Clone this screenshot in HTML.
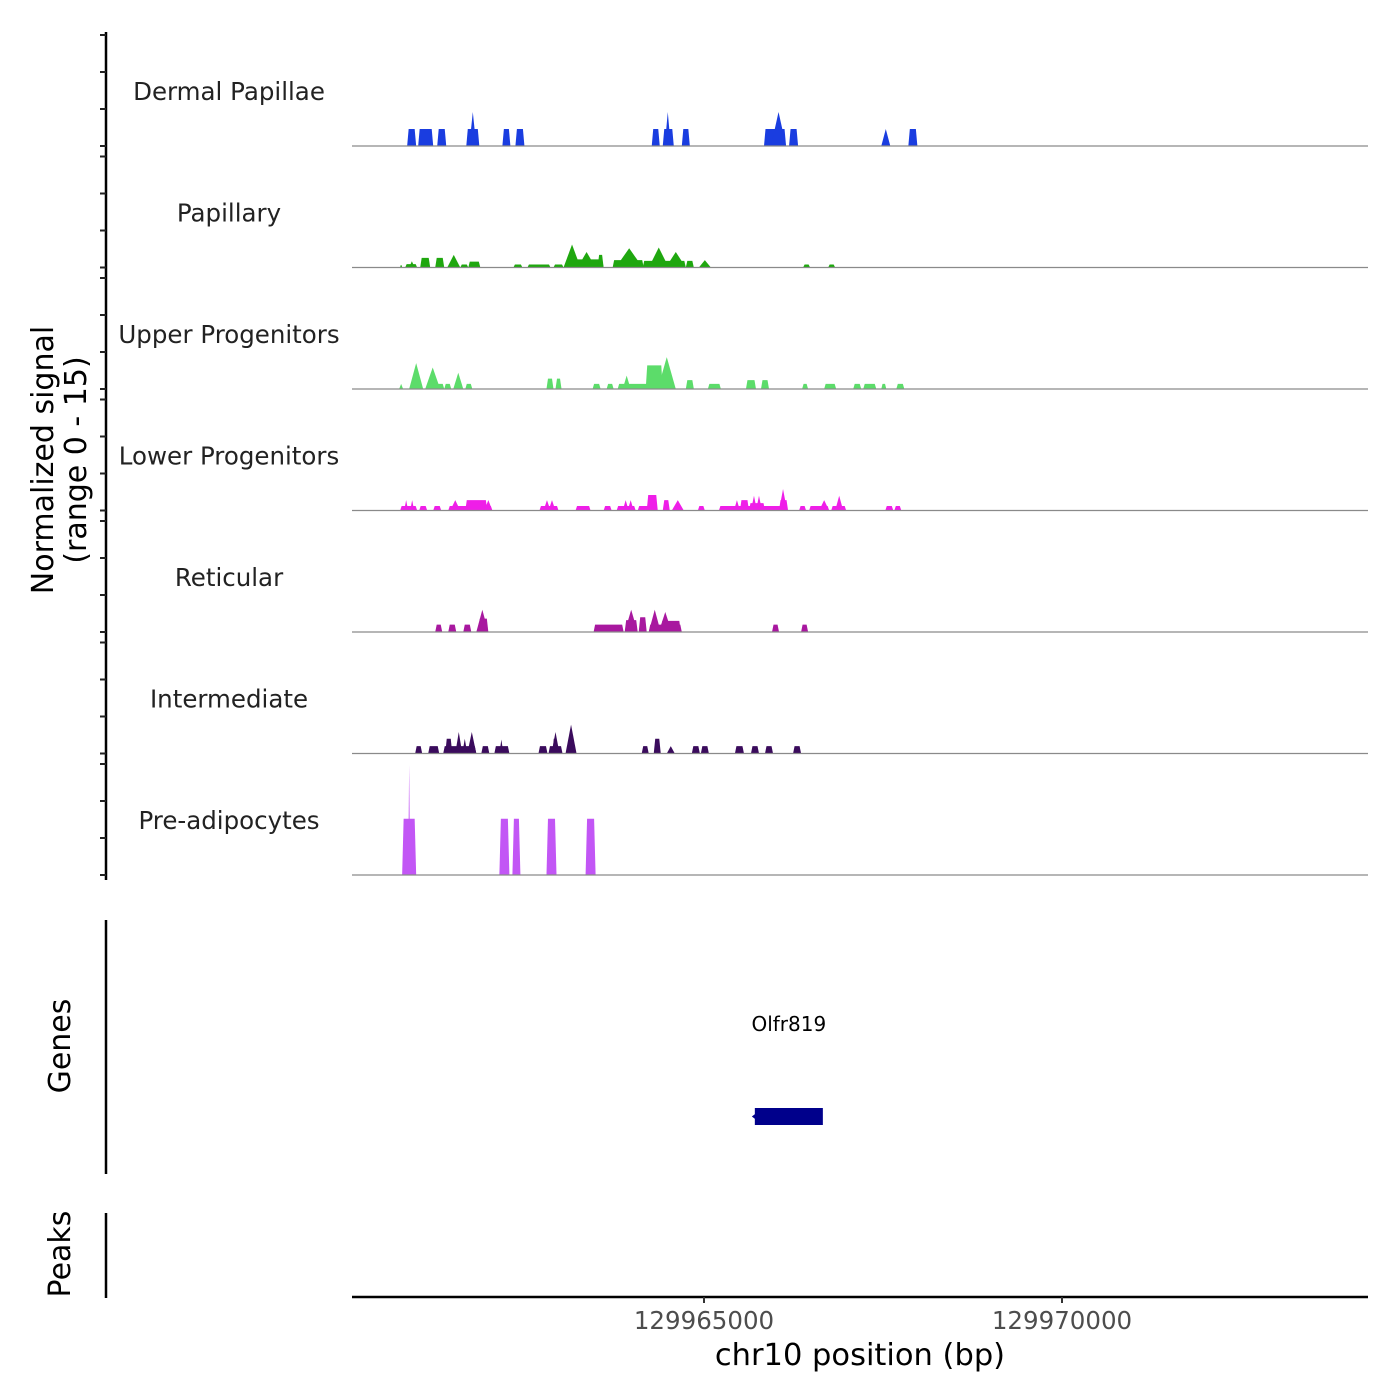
<!DOCTYPE html>
<html><head><meta charset="utf-8"><style>
body{margin:0;background:#fff}
svg{display:block;font-family:"DejaVu Sans","Liberation Sans",sans-serif}
</style></head><body>
<svg id="chart" width="1400" height="1400" viewBox="0 0 1400 1400"></svg>
<script>
const BASE = 129960000;
const trackNames = ["Dermal Papillae","Papillary","Upper Progenitors","Lower Progenitors","Reticular","Intermediate","Pre-adipocytes"];
const trackColors = ["#1a3de0","#1fa70f","#5cdc6a","#ef1ee8","#a8189f","#3a0b5c","#c256f5"];
// peaks: [startOffset, endOffset, value, kind] kind b=block, t=triangle
const dermalPeaks = [[854,980,2.3,"b"],[1008,1218,2.3,"b"],[1274,1400,2.3,"b"],[1680,1862,2.3,"b"],[1722,1820,4.6,"t"],[2184,2296,2.3,"b"],[2366,2492,2.3,"b"],[4270,4382,2.3,"b"],[4424,4578,2.3,"b"],[4452,4536,4.6,"t"],[4690,4802,2.3,"b"],[5838,6146,2.3,"b"],[5936,6146,4.6,"t"],[6188,6314,2.3,"b"],[7476,7602,2.3,"t"],[7854,7980,2.3,"b"]];
const papillaryPeaks = [[756,784,0.3,"b"],[826,994,0.45,"b"],[880,960,0.85,"t"],[1036,1176,1.3,"b"],[1246,1372,1.3,"b"],[1414,1596,1.7,"t"],[1596,1708,0.4,"b"],[1708,1876,0.8,"b"],[2338,2464,0.4,"b"],[2534,2856,0.4,"b"],[2898,3038,0.4,"b"],[3066,3598,1.1,"b"],[3038,3276,3.1,"t"],[3234,3486,2.1,"t"],[3514,3598,1.7,"b"],[3724,4158,1.0,"b"],[3766,4144,2.6,"t"],[4144,4746,0.9,"b"],[4228,4508,2.7,"t"],[4466,4746,2.1,"t"],[4746,4858,0.9,"b"],[4928,5096,1.0,"t"],[6384,6482,0.4,"b"],[6734,6832,0.4,"b"]];
const upperPeaks = [[742,798,0.7,"t"],[882,1078,3.5,"t"],[1106,1316,2.9,"t"],[1246,1372,0.7,"b"],[1372,1470,0.7,"b"],[1498,1638,2.2,"t"],[1666,1764,0.7,"b"],[2800,2898,1.4,"b"],[2926,3010,1.4,"b"],[3444,3556,0.7,"b"],[3640,3738,0.7,"b"],[3794,4214,0.7,"b"],[3864,3976,1.8,"t"],[4186,4424,3.2,"b"],[4354,4606,4.3,"t"],[4746,4858,1.2,"b"],[5054,5236,0.7,"b"],[5586,5726,1.2,"b"],[5796,5908,1.2,"b"],[6370,6454,0.7,"b"],[6678,6846,0.7,"b"],[7084,7196,0.7,"b"],[7224,7406,0.7,"b"],[7476,7546,0.7,"b"],[7686,7798,0.7,"b"]];
const lowerPeaks = [[756,994,0.6,"b"],[812,868,1.4,"t"],[896,952,1.4,"t"],[1022,1134,0.6,"b"],[1218,1330,0.6,"b"],[1428,2044,0.6,"b"],[1666,1974,1.4,"b"],[1456,1596,1.4,"t"],[1932,2044,1.4,"t"],[2702,2968,0.6,"b"],[2758,2856,1.4,"t"],[2828,2926,1.4,"t"],[3206,3416,0.6,"b"],[3598,3710,0.6,"b"],[3780,4046,0.6,"b"],[3864,3948,1.4,"t"],[3934,4018,1.4,"t"],[4074,4354,0.6,"b"],[4200,4354,2.1,"b"],[4424,4522,1.4,"b"],[4550,4718,1.4,"t"],[4914,5012,0.6,"b"],[5208,5768,0.6,"b"],[5418,5502,1.4,"t"],[5502,5628,1.4,"b"],[5656,5740,2.0,"t"],[5726,5810,2.0,"t"],[5628,5852,1.0,"b"],[5796,6160,0.6,"b"],[6048,6160,2.9,"t"],[6048,6174,1.4,"b"],[6328,6426,0.6,"b"],[6468,6748,0.6,"b"],[6608,6748,1.4,"t"],[6776,6986,0.6,"b"],[6832,6944,2.0,"t"],[7532,7644,0.6,"b"],[7658,7756,0.6,"b"]];
const reticularPeaks = [[1246,1344,1.0,"b"],[1428,1540,1.0,"b"],[1638,1750,1.0,"b"],[1820,1988,3.0,"t"],[1848,1988,1.8,"b"],[3458,3878,1.0,"b"],[3892,4074,3.0,"t"],[3892,4074,1.6,"b"],[4088,4200,2.0,"b"],[4228,4690,1.0,"b"],[4228,4396,3.0,"t"],[4368,4550,2.7,"t"],[4396,4676,1.5,"b"],[5950,6048,1.0,"b"],[6356,6454,1.0,"b"]];
const intermediatePeaks = [[966,1064,1.0,"b"],[1148,1302,1.0,"b"],[1358,1820,1.0,"b"],[1386,1484,2.0,"b"],[1526,1624,2.9,"t"],[1624,1694,2.0,"t"],[1694,1820,2.9,"t"],[1890,2002,1.0,"b"],[2072,2282,1.0,"b"],[2142,2198,1.9,"t"],[2688,2814,1.0,"b"],[2828,3024,1.0,"b"],[2884,2954,2.0,"b"],[2870,2982,2.9,"t"],[3066,3220,3.9,"t"],[3090,3196,2.0,"b"],[4130,4228,1.0,"b"],[4298,4396,2.0,"b"],[4480,4592,1.0,"t"],[4830,4942,1.0,"b"],[4956,5068,1.0,"b"],[5432,5558,1.0,"b"],[5656,5768,1.0,"b"],[5852,5964,1.0,"b"],[6244,6356,1.0,"b"]];
const preadipoPeaks = [[784,980,7.6,"b"],[868,896,14.9,"t"],[2142,2282,7.6,"b"],[2324,2436,7.6,"b"],[2800,2940,7.6,"b"],[3346,3486,7.6,"b"]];
const allPeaks = [dermalPeaks,papillaryPeaks,upperPeaks,lowerPeaks,reticularPeaks,intermediatePeaks,preadipoPeaks];
const xTickValues = [129965000,129970000];
const xTickLabels = ["129965000","129970000"];
const yTickValues = [0,5,10,15];
const geneName = "Olfr819";
const geneStart = 129965710, geneEnd = 129966660;

const NS="http://www.w3.org/2000/svg";
const svg=document.getElementById("chart");
function mk(tag,attrs,parent){const e=document.createElementNS(NS,tag);for(const k in attrs)e.setAttribute(k,attrs[k]);(parent||svg).appendChild(e);return e;}
const X0=352,X1=1368;
function xs(bp){return 704+(bp-129965000)*358/5000;}
const PXU=111/15;
function baseY(i){return 146+i*121.5;}
function ys(i,v){return baseY(i)-v*PXU;}

let ax=mk("line",{x1:106,y1:32,x2:106,y2:880,stroke:"#000","stroke-width":2.5});


for(let i=0;i<7;i++){
  for(const v of yTickValues){
    const t=mk("line",{x1:100,y1:ys(i,v),x2:106,y2:ys(i,v),stroke:"#222","stroke-width":2});
    
    
  }
}
let yt=mk("text",{transform:"translate(53,460) rotate(-90)","text-anchor":"middle","font-size":30,fill:"#000"});


mk("tspan",{x:0,dy:0},yt).textContent="Normalized signal";
mk("tspan",{x:0,dy:33},yt).textContent="(range 0 - 15)";

for(let i=0;i<7;i++){
  const g=mk("g",{});
  
  
  const lb=mk("text",{x:229,y:baseY(i)-46,"text-anchor":"middle","font-size":24.5,fill:"#222"},g);
  lb.textContent=trackNames[i];
  
  
  for(const p of allPeaks[i]){
    const a=xs(BASE+p[0]),b=xs(BASE+p[1]),y0=baseY(i),y1=ys(i,p[2]);
    let pts;
    if(p[3]==="t") pts=`${a},${y0} ${(a+b)/2},${y1} ${b},${y0}`;
    else {const s=Math.min(1.5,(b-a)/4);pts=`${a},${y0} ${a+s},${y1} ${b-s},${y1} ${b},${y0}`;}
    const pg=mk("polygon",{points:pts,fill:trackColors[i]},g);
    
    
  }
  const bl=mk("line",{x1:X0,y1:baseY(i),x2:X1,y2:baseY(i),stroke:"#8a8a8a","stroke-width":1.2},g);
  
  
}

let ga=mk("line",{x1:106,y1:920,x2:106,y2:1174,stroke:"#000","stroke-width":2.5});


let gt=mk("text",{transform:"translate(70,1046) rotate(-90)","text-anchor":"middle","font-size":30,fill:"#000"});
gt.textContent="Genes";


let gr=mk("rect",{x:xs(geneStart),y:1108,width:xs(geneEnd)-xs(geneStart),height:17,fill:"#00008b"});


let gar=mk("polygon",{points:`${xs(geneStart)-3},1116.5 ${xs(geneStart)+3},1112 ${xs(geneStart)+3},1121`,fill:"#00008b"});


let gl=mk("text",{x:(xs(geneStart)+xs(geneEnd))/2,y:1031,"text-anchor":"middle","font-size":20,fill:"#000"});
gl.textContent=geneName;



let pa=mk("line",{x1:106,y1:1213,x2:106,y2:1298,stroke:"#000","stroke-width":2.5});


let pt=mk("text",{transform:"translate(70,1254) rotate(-90)","text-anchor":"middle","font-size":30,fill:"#000"});
pt.textContent="Peaks";



let xa=mk("line",{x1:X0,y1:1297,x2:X1,y2:1297,stroke:"#000","stroke-width":2.5});


xTickValues.forEach((v,k)=>{
  const tk=mk("line",{x1:xs(v),y1:1297,x2:xs(v),y2:1303,stroke:"#333","stroke-width":2});
  
  
  const tl=mk("text",{x:xs(v),y:1329,"text-anchor":"middle","font-size":24.5,fill:"#4d4d4d"});
  tl.textContent=xTickLabels[k];
  
  
});
let xt=mk("text",{x:860,y:1365,"text-anchor":"middle","font-size":30.5,fill:"#000"});
xt.textContent="chr10 position (bp)";


</script>
</body></html>
